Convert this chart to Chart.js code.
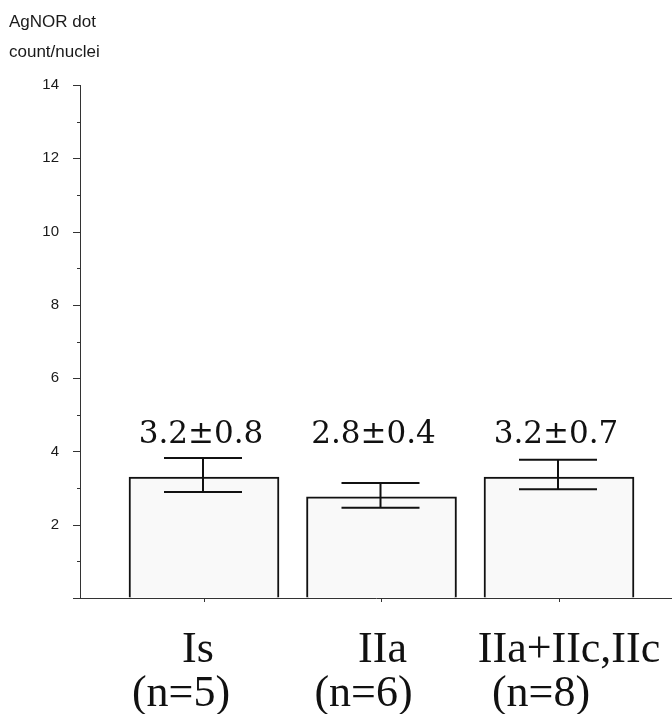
<!DOCTYPE html>
<html>
<head>
<meta charset="utf-8">
<script src="https://cdn.jsdelivr.net/npm/chart.js@4"></script>
<style>
html,body{margin:0;padding:0;background:#fff;}
#wrap{width:672px;height:714px;position:relative;}
</style>
</head>
<body>
<div id="wrap"><canvas id="c" width="672" height="714"></canvas></div>
<script>
// ---- data ----
const categories = ['Is', 'IIa', 'IIa+IIc,IIc'];
const sampleSizes = ['(n=5)', '(n=6)', '(n=8)'];
const barValues = [3.30, 2.76, 3.30];
const errLow = [2.89, 2.46, 2.97];
const errHigh = [3.82, 3.14, 3.77];
const valueLabels = ['3.2\u00B10.8', '2.8\u00B10.4', '3.2\u00B10.7'];
const yTickLabels = {2:'2', 4:'4', 6:'6', 8:'8', 10:'10', 12:'12', 14:'14'};
const yTitle = ['AgNOR dot', 'count/nuclei'];

const xPositions = categories.map((_, i) => i + 1);

const annot = {
  id: 'annot',
  afterDatasetsDraw(chart) {
    const ctx = chart.ctx;
    const xs = chart.scales.x, ys = chart.scales.y;
    const area = chart.chartArea;
    ctx.save();
    // y-axis tick marks (major even, minor odd)
    ctx.strokeStyle = '#333';
    ctx.lineWidth = 1;
    for (let v = 0; v <= 14; v++) {
      const y = Math.round(ys.getPixelForValue(v)) + 0.5;
      const len = (v % 2 === 0) ? 7 : 3;
      ctx.beginPath();
      ctx.moveTo(area.left - len, y);
      ctx.lineTo(area.left, y);
      ctx.stroke();
    }
    // error bars
    ctx.strokeStyle = '#111';
    ctx.lineWidth = 2;
    xPositions.forEach((xv, i) => {
      const x = xs.getPixelForValue(xv) - 1;
      const yl = ys.getPixelForValue(errLow[i]);
      const yh = ys.getPixelForValue(errHigh[i]);
      const hw = 39;
      ctx.beginPath();
      ctx.moveTo(x, yl); ctx.lineTo(x, yh);
      ctx.moveTo(x - hw, yh); ctx.lineTo(x + hw, yh);
      ctx.moveTo(x - hw, yl); ctx.lineTo(x + hw, yl);
      ctx.stroke();
    });
    // value labels
    ctx.fillStyle = '#111';
    ctx.font = '31px "DejaVu Serif"';
    ctx.textAlign = 'center';
    ctx.textBaseline = 'alphabetic';
    const labelShift = [-3, -8, -3];
    xPositions.forEach((xv, i) => {
      ctx.fillText(valueLabels[i], xs.getPixelForValue(xv) + labelShift[i], ys.getPixelForValue(4.23));
    });
    // category labels
    ctx.font = '44px "Liberation Serif"';
    const shift1 = [-6, 1, 10];
    const shift2 = [-23, -18, -18];
    xPositions.forEach((xv, i) => {
      const x = xs.getPixelForValue(xv);
      ctx.fillText(categories[i], x + shift1[i], area.bottom + 64);
      ctx.fillText(sampleSizes[i], x + shift2[i], area.bottom + 108);
    });
    // y-axis title
    ctx.font = '17px "Liberation Sans"';
    ctx.textAlign = 'left';
    ctx.fillStyle = '#1a1a1a';
    ctx.fillText(yTitle[0], 9, 27);
    ctx.fillText(yTitle[1], 9, 57);
    ctx.restore();
  }
};

new Chart(document.getElementById('c'), {
  type: 'bar',
  data: {
    datasets: [{
      data: xPositions.map((x, i) => ({x: x, y: barValues[i]})),
      backgroundColor: '#f9f9f9',
      borderColor: '#111',
      borderWidth: 2,
      borderSkipped: 'bottom',
      barThickness: 150
    }]
  },
  options: {
    responsive: false,
    animation: false,
    layout: {padding: {top: 85, left: 0, right: 0, bottom: 0}},
    plugins: {legend: {display: false}, tooltip: {enabled: false}},
    scales: {
      x: {
        type: 'linear',
        offset: false,
        min: 0.3014,
        max: 3.6366,
        afterBuildTicks: s => { s.ticks = xPositions.map(v => ({value: v})); },
        afterFit: s => { s.height = 116; },
        ticks: {display: false},
        grid: {offset: false, drawOnChartArea: false, drawTicks: true, tickLength: 4, color: '#333'},
        border: {color: '#333', width: 1}
      },
      y: {
        min: 0,
        max: 14,
        afterBuildTicks: s => { const t = []; for (let v = 0; v <= 14; v++) t.push({value: v}); s.ticks = t; },
        afterFit: s => { s.width = 80; },
        ticks: {
          padding: 21,
          color: '#1a1a1a',
          font: {family: '"Liberation Sans"', size: 15},
          callback: v => yTickLabels[v] || ''
        },
        grid: {drawOnChartArea: false, drawTicks: false},
        border: {color: '#333', width: 1}
      }
    }
  },
  plugins: [annot]
});
</script>
</body>
</html>
